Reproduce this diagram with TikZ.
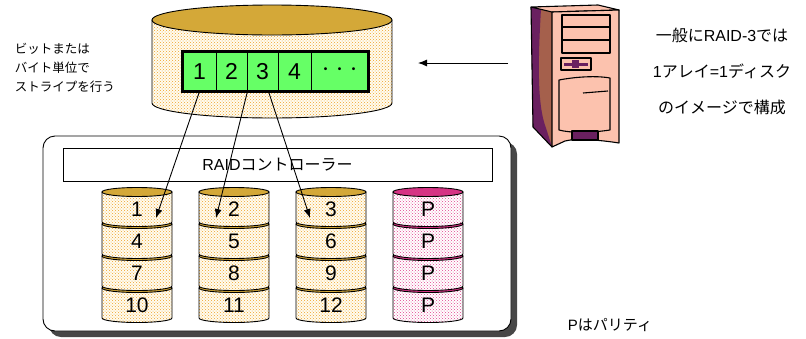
\documentclass[tikz,border=0pt]{standalone}
\usepackage{fontspec}
\setmainfont{Liberation Sans}
\newfontfamily\jp{Noto Sans CJK JP}
\usetikzlibrary{arrows.meta, patterns, shadows, positioning}

\definecolor{gold}{HTML}{D4A838}
\definecolor{dotorange}{HTML}{EFA22A}
\definecolor{dotcream}{HTML}{FFFCF0}
\definecolor{parityred}{HTML}{D63384}
\definecolor{paritydot}{HTML}{E2448F}
\definecolor{cellgreen}{HTML}{66FF66}
\definecolor{casepink}{HTML}{FCC2AE}
\definecolor{casebrown}{HTML}{A5604C}
\definecolor{casepurple}{HTML}{6A2060}

\begin{document}
\begin{tikzpicture}[
  x=1pt, y=-1pt, line width=0.9pt,
  every node/.style={font=\fontsize{15}{18}\selectfont},
  cell/.style={rectangle, draw, fill=cellgreen, minimum height=39pt, inner sep=0pt,
    font=\fontsize{23}{25}\selectfont},
  disknum/.style={inner sep=0pt, font=\fontsize{21}{23}\selectfont},
  ctrl/.style={rectangle, draw, fill=white, minimum width=429pt, minimum height=33pt},
  arraybox/.style={rectangle, draw, fill=white, rounded corners=12pt,
    minimum width=468pt, minimum height=195pt,
    drop shadow={shadow xshift=6pt, shadow yshift=-6pt, fill=black!72, opacity=1}},
  data-body/.style={draw, preaction={fill=dotcream}, pattern=crosshatch dots, pattern color=dotorange},
  data-top/.style={draw, fill=gold},
  parity-body/.style={draw, preaction={fill=white}, pattern=crosshatch dots, pattern color=paritydot},
  parity-top/.style={draw, fill=parityred},
  >={Latex[length=9pt,width=7pt]}
]
\useasboundingbox (0,0) rectangle (806,338);

% disk array with its controller
\node[arraybox] (array) at (277,233.5) {};
\node[ctrl, font=\fontsize{16}{18}\selectfont] (ctrl) at (277.5,164.5) {RAID{\jp コントローラー}};

% four disks, stacked stripes (bottom ones first)
\foreach \c/\cx/\kind in {1/137/data, 2/234/data, 3/331/data, 4/428/parity}{
  \foreach \r in {3,2,1,0}{
    \pgfmathsetmacro\t{192+32*\r}
    \path[\kind-body] (\cx-35,\t) -- (\cx-35,\t+30)
      arc[start angle=180, end angle=0, x radius=35, y radius=4.5] -- (\cx+35,\t) -- cycle;
    \draw[\kind-top] (\cx,\t) ellipse[x radius=35, y radius=4.5];
    \pgfmathtruncatemacro\num{3*\r+\c}
    \node[disknum] (d\c-\r) at (\cx,\t+17) {\ifnum\c=4 P\else\num\fi};
  }
}

% logical disk seen by the host
\path[data-body] (152,20) -- (152,103)
  arc[start angle=180, end angle=0, x radius=120, y radius=15] -- (392,20) -- cycle;
\draw[data-top] (272,20) ellipse[x radius=120, y radius=15];

\node[cell, minimum width=33pt] (c1) at (199.5,71.5) {1};
\node[cell, minimum width=31pt] (c2) at (231.5,71.5) {2};
\node[cell, minimum width=31pt] (c3) at (262.5,71.5) {3};
\node[cell, minimum width=33pt] (c4) at (294.5,71.5) {4};
\node[cell, minimum width=57pt, font=\fontsize{14}{16}\selectfont] (c5) at (339.5,71.5) {{\jp ・・・}};
\draw[line width=2.2pt] (c1.north west) rectangle (c5.south east);

% host tower
\begin{scope}[line width=1.1pt, line join=round]
  \fill[casebrown] (531,7) -- (552,12) -- (552,147) -- (533,127) -- cycle;
  \fill[casepurple] (531,7) -- (541,9) .. controls (538,60) and (537,105) .. (546,128)
    -- (552,147) -- (533,127) -- cycle;
  \filldraw[fill=casepink] (531,7) -- (598,5) -- (619,10) -- (552,12) -- cycle;
  \filldraw[fill=casepink] (552,12) -- (619,10) -- (619,143)
    .. controls (600,140) and (576,138) .. (565,141) -- (552,147) -- cycle;
  \draw (531,7) -- (533,127) -- (552,147);
  \filldraw[fill=casepink] (562,15) rectangle (610,53);
  \draw (562,27) -- (610,27) (562,40) -- (610,40);
  \filldraw[fill=casepink] (561,58) rectangle (591,70);
  \fill[casepurple] (564,62.5) rectangle (588,65.5);
  \fill[casepurple] (572,60) rectangle (579,68);
  \filldraw[fill=casepink] (559,80) .. controls (580,76) and (600,76) .. (610,78)
    -- (610,130) .. controls (590,133) and (570,133) .. (559,130) -- cycle;
  \draw (583,93) -- (608,91);
  \filldraw[fill=casepurple] (572,131) rectangle (598,140);
\end{scope}

% texts
\node[align=left, anchor=west, font=\jp\fontsize{12.5}{19}\selectfont] (stripe) at (11,68)
  {ビットまたは\\バイト単位で\\ストライプを行う};
\node[align=center, font=\fontsize{16}{36}\selectfont] (note) at (722,71)
  {{\jp 一般に}RAID-3{\jp では}\\1{\jp アレイ}=1{\jp ディスク}\\{\jp のイメージで構成}};
\node (parity) at (610,325) {P{\jp はパリティ}};

% arrows
\coordinate (host) at (508,63);
\coordinate (disk) at (418,63);
\coordinate (hit1) at (156,218);
\coordinate (hit2) at (216,218);
\coordinate (hit3) at (310,218);
\draw[->] (host) -- (disk);
\draw[->] (c1.south) -- (hit1);
\draw[->] (c2.south east) -- (hit2);
\draw[->] ([xshift=6pt]c3.south) -- (hit3);

\end{tikzpicture}
\end{document}
